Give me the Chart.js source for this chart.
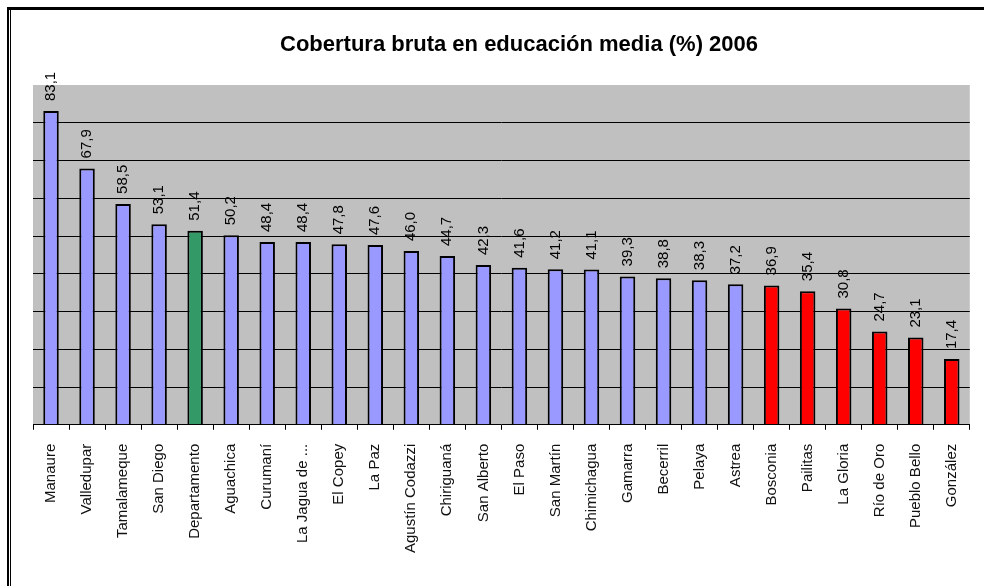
<!DOCTYPE html>
<html>
<head>
<meta charset="utf-8">
<script src="https://cdn.jsdelivr.net/npm/chart.js@4.4.1/dist/chart.umd.min.js"></script>
<style>
  html, body { margin: 0; padding: 0; background: #fff; }
  #wrap { width: 984px; height: 586px; position: relative; }
</style>
</head>
<body>
<div id="wrap"><canvas id="grafico" width="984" height="586"></canvas></div>
<script>
// municipios y cobertura (%)
const municipios = [
  'Manaure', 'Valledupar', 'Tamalameque', 'San Diego', 'Departamento',
  'Aguachica', 'Curumaní', 'La Jagua de ...', 'El Copey', 'La Paz',
  'Agustín Codazzi', 'Chiriguaná', 'San Alberto', 'El Paso', 'San Martín',
  'Chimichagua', 'Gamarra', 'Becerril', 'Pelaya', 'Astrea',
  'Bosconia', 'Pailitas', 'La Gloria', 'Río de Oro', 'Pueblo Bello', 'González'
];
const cobertura = [
  83.1, 67.9, 58.5, 53.1, 51.4, 50.2, 48.4, 48.4, 47.8, 47.6,
  46.0, 44.7, 42.3, 41.6, 41.2, 41.1, 39.3, 38.8, 38.3, 37.2,
  36.9, 35.4, 30.8, 24.7, 23.1, 17.4
];
// grupo de cada barra: 'm' municipio, 'd' departamento, 'b' bajo
const grupos = [
  'm', 'm', 'm', 'm', 'd', 'm', 'm', 'm', 'm', 'm',
  'm', 'm', 'm', 'm', 'm', 'm', 'm', 'm', 'm', 'm',
  'b', 'b', 'b', 'b', 'b', 'b'
];
const titulo = 'Cobertura bruta en educación media (%) 2006';
const ejeMax = 90;
const ejePaso = 10;

const coresGrupo = { m: '#9999FF', d: '#339966', b: '#FF0000' };

// fondo gris del area y marco de la imagen
const fondoPlugin = {
  id: 'fondo',
  beforeDraw(chart) {
    const { ctx, chartArea } = chart;
    ctx.save();
    ctx.fillStyle = '#C0C0C0';
    ctx.fillRect(chartArea.left, chartArea.top,
      chartArea.right - chartArea.left, chartArea.bottom - chartArea.top);
    // marco
    ctx.fillStyle = '#000';
    ctx.fillRect(7, 7, 977, 3);
    ctx.fillRect(7, 7, 2, 579);
    ctx.fillRect(10, 10, 1, 576);
    // titulo
    ctx.font = 'bold 22px "Liberation Sans", Arial, sans-serif';
    ctx.textAlign = 'center';
    ctx.textBaseline = 'alphabetic';
    ctx.fillText(titulo, 519, 51);
    ctx.restore();
  }
};

// valores rotados sobre cada barra
const valoresPlugin = {
  id: 'valores',
  afterDatasetsDraw(chart) {
    const { ctx } = chart;
    const meta = chart.getDatasetMeta(0);
    ctx.save();
    ctx.font = '15px "Liberation Sans", Arial, sans-serif';
    ctx.fillStyle = '#000';
    ctx.textAlign = 'left';
    ctx.textBaseline = 'middle';
    meta.data.forEach((bar, i) => {
      const txt = cobertura[i].toFixed(1).replace('.', ',');
      ctx.save();
      ctx.translate(bar.x, bar.y - 10);
      ctx.rotate(-Math.PI / 2);
      ctx.fillText(txt, 0, 0);
      ctx.restore();
    });
    ctx.restore();
  }
};

new Chart(document.getElementById('grafico'), {
  type: 'bar',
  data: {
    labels: municipios,
    datasets: [{
      data: cobertura,
      backgroundColor: grupos.map((g) => coresGrupo[g]),
      borderColor: '#000',
      borderWidth: 2,
      categoryPercentage: 1,
      barPercentage: 0.43,
    }],
  },
  options: {
    responsive: false,
    animation: false,
    layout: { padding: { left: 33, right: 12, top: 85, bottom: 19 } },
    plugins: {
      legend: { display: false },
      tooltip: { enabled: false },
      title: { display: false },
    },
    scales: {
      y: {
        min: 0,
        max: ejeMax,
        ticks: { display: false, stepSize: ejePaso },
        border: { display: false },
        grid: {
          drawTicks: false,
          lineWidth: 1,
          color: (c) => (c.tick.value === 0 || c.tick.value === ejeMax ? 'rgba(0,0,0,0)' : '#000'),
        },
      },
      x: {
        border: { display: true, color: '#000', width: 1 },
        grid: {
          drawOnChartArea: false,
          drawTicks: true,
          tickLength: 5,
          color: '#000',
        },
        ticks: {
          autoSkip: false,
          maxRotation: 90,
          minRotation: 90,
          padding: 14,
          color: '#111',
          font: { family: '"Liberation Sans", Arial, sans-serif', size: 15 },
        },
      },
    },
  },
  plugins: [fondoPlugin, valoresPlugin],
});
</script>
</body>
</html>
